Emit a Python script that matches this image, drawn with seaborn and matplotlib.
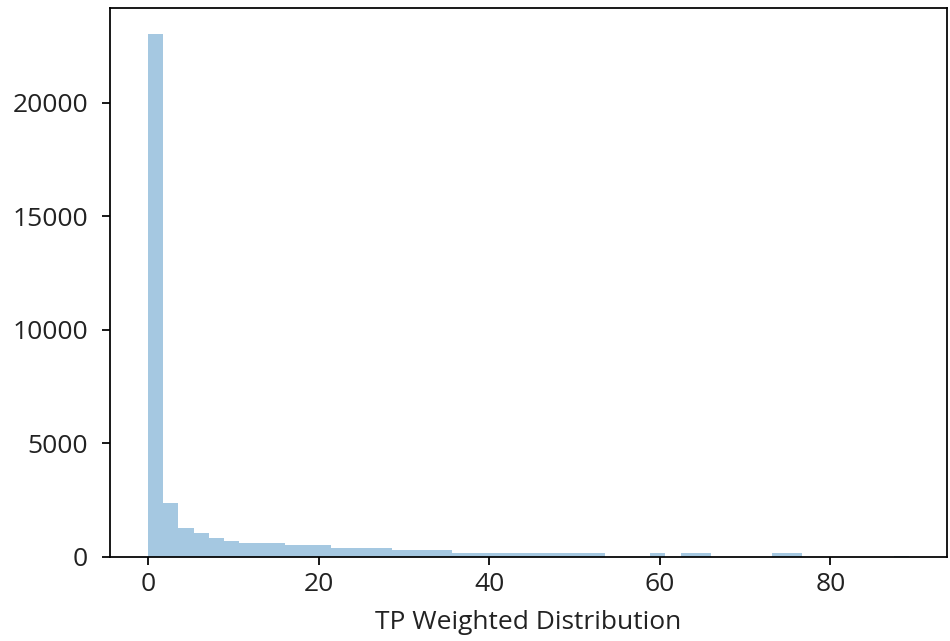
import numpy as np
import pandas as pd
import matplotlib
matplotlib.use("Agg")
import matplotlib.pyplot as plt
import seaborn as sns

# Histogram of TP weighted values: 50 equal-width bins from 0 to the maximum value
n_bins = 50
value_min = 0.0
value_max = 89.2
bin_counts = [
    23000, 2370, 1250, 1045, 810, 695, 605, 605, 605, 500,
    500, 500, 385, 385, 385, 370, 280, 280, 280, 280,
    160, 160, 160, 160, 160, 160, 160, 160, 160, 160,
    0, 0, 0, 140, 0, 140, 140, 0, 0, 0,
    0, 140, 140, 0, 0, 0, 0, 0, 0, 2,
]
x_label = "TP Weighted Distribution"
y_ticks = [0, 5000, 10000, 15000, 20000]
x_ticks = [0, 20, 40, 60, 80]

edges = np.linspace(value_min, value_max, n_bins + 1)
df = pd.DataFrame({
    "value": (edges[:-1] + edges[1:]) / 2,
    "count": np.asarray(bin_counts, dtype=float),
})

plt.rcParams["font.family"] = ["Open Sans", "DejaVu Sans"]
plt.rcParams["font.size"] = 12
plt.rcParams["text.color"] = "#222222"
plt.rcParams["xtick.labelcolor"] = "#222222"
plt.rcParams["ytick.labelcolor"] = "#222222"

dpi = 158.4
fig = plt.figure(figsize=(950 / dpi, 641 / dpi), dpi=dpi)
ax = fig.add_axes([0.1158, 0.1318, 0.8810, 0.8552])

sns.histplot(data=df, x="value", weights="count", bins=n_bins,
             binrange=(value_min, value_max), color="#1f77b4",
             alpha=0.4, linewidth=0, ax=ax)

ax.set_xticks(x_ticks)
ax.set_yticks(y_ticks)
ax.tick_params(labelsize=12)
ax.tick_params(axis="y", pad=6.5)
ax.set_xlabel(x_label, color="#222222", fontsize=12, labelpad=6)
ax.set_ylabel("")

fig.savefig("out.png", dpi=dpi)
